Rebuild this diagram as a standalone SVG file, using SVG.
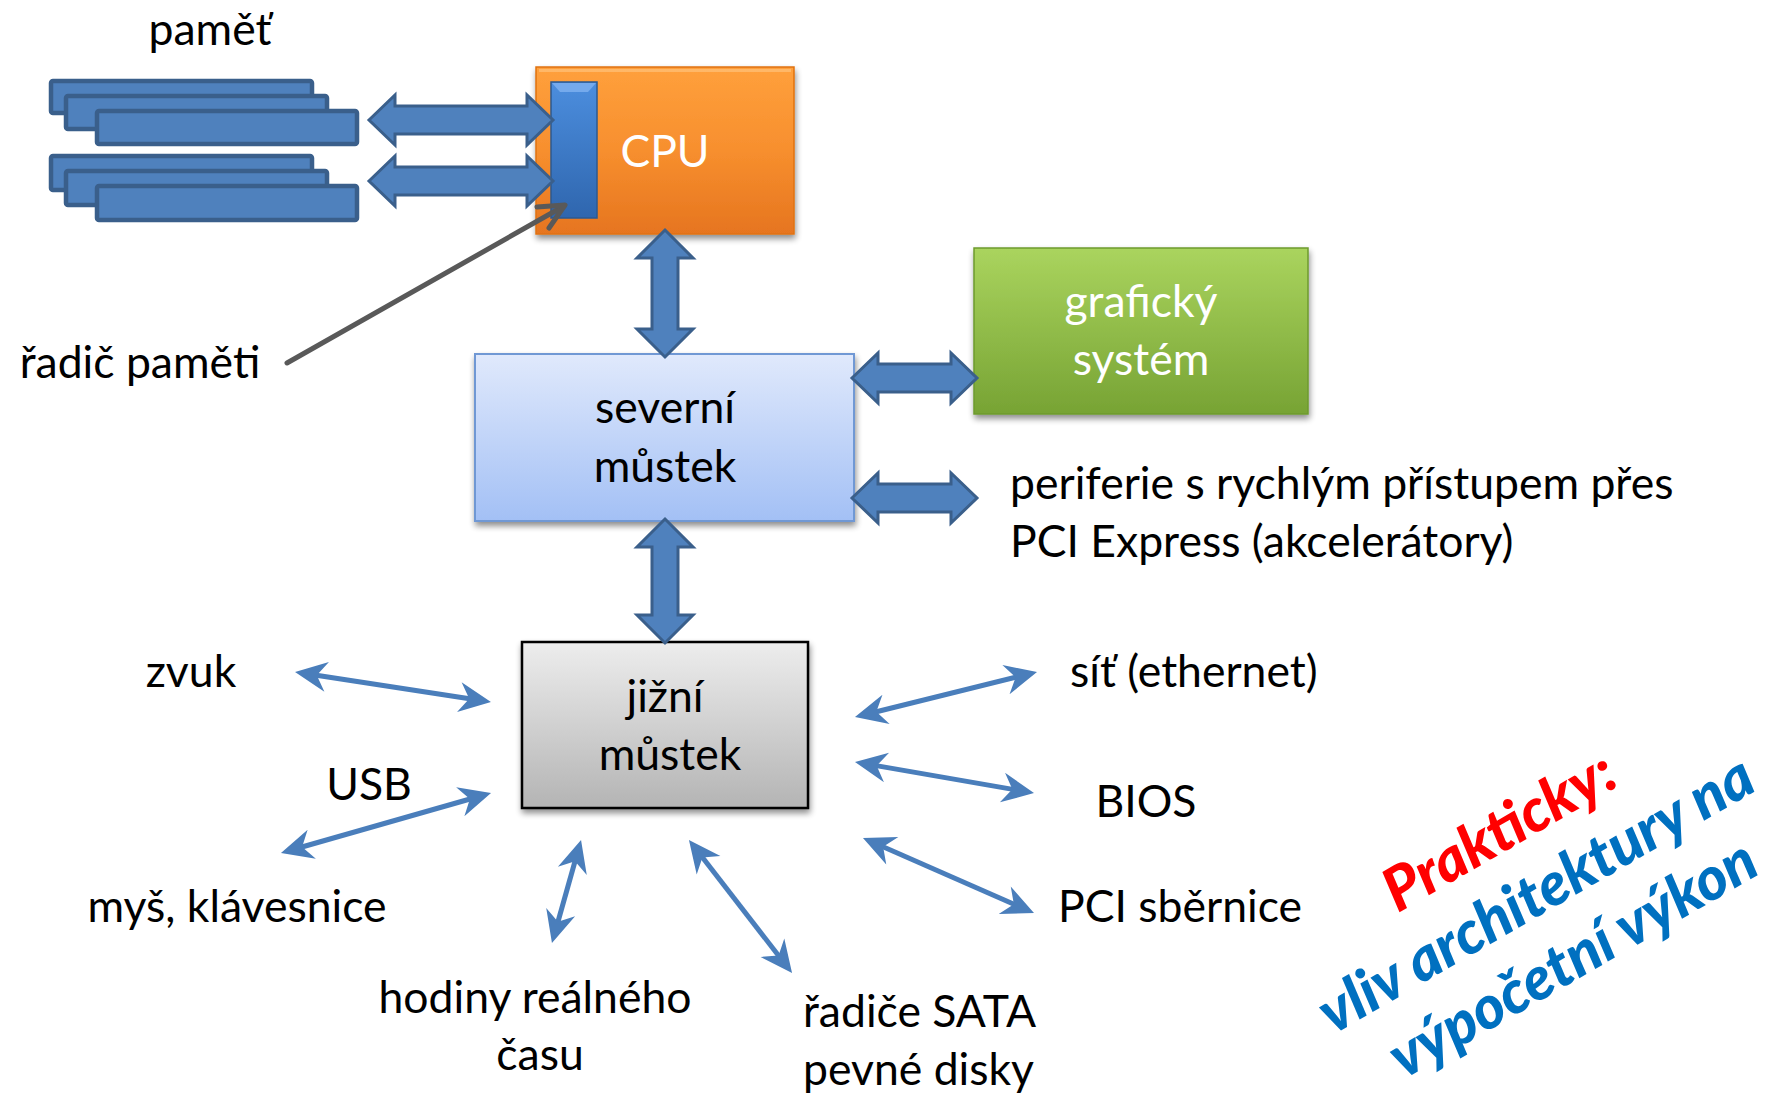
<svg xmlns="http://www.w3.org/2000/svg" width="1778" height="1097" viewBox="0 0 1778 1097">
<style>
text{font-family:Lato,"Open Sans","Liberation Sans",sans-serif;font-size:44.5px;fill:#000}
.w{fill:#fff}
.mem{fill:#4F81BD;stroke:#3A5F8B;stroke-width:4.5}
.blk{fill:#4F81BD;stroke:#3A5F8B;stroke-width:3;stroke-linejoin:miter}
.thin{stroke:#4A7EBB;stroke-width:5;fill:none;marker-start:url(#ah);marker-end:url(#ah)}
.rot{font-weight:900;font-style:italic;font-size:60px}
</style>
<defs>
<marker id="ah" markerUnits="userSpaceOnUse" markerWidth="40" markerHeight="40" viewBox="-5 -20 40 40" refX="10" refY="0" orient="auto-start-reverse" overflow="visible"><path d="M30,0 L-2,-15 L8,0 L-2,15 Z" fill="#4A7EBB"/></marker>
<linearGradient id="gOr" x1="0" y1="0" x2="0" y2="1"><stop offset="0" stop-color="#FFA03C"/><stop offset="0.5" stop-color="#F78F2E"/><stop offset="1" stop-color="#E6751F"/></linearGradient>
<linearGradient id="gBar" x1="0" y1="0" x2="0" y2="1"><stop offset="0" stop-color="#4C8EDE"/><stop offset="1" stop-color="#2F66AE"/></linearGradient>
<linearGradient id="gGr" x1="0" y1="0" x2="0" y2="1"><stop offset="0" stop-color="#AAD45E"/><stop offset="1" stop-color="#77A334"/></linearGradient>
<linearGradient id="gNb" x1="0" y1="0" x2="0" y2="1"><stop offset="0" stop-color="#E0E9FC"/><stop offset="1" stop-color="#A3C0F5"/></linearGradient>
<linearGradient id="gSb" x1="0" y1="0" x2="0" y2="1"><stop offset="0" stop-color="#EDEDED"/><stop offset="1" stop-color="#B4B4B4"/></linearGradient>
<filter id="sh" x="-10%" y="-10%" width="125%" height="130%"><feGaussianBlur in="SourceAlpha" stdDeviation="3"/><feOffset dx="1" dy="4" result="b"/><feComponentTransfer><feFuncA type="linear" slope="0.45"/></feComponentTransfer><feMerge><feMergeNode/><feMergeNode in="SourceGraphic"/></feMerge></filter>
</defs>
<rect width="1778" height="1097" fill="#fff"/>

<g id="memory">
<text x="210" y="45" text-anchor="middle">paměť</text>
<rect class="mem" x="51" y="81" width="261" height="32" rx="2"/>
<rect class="mem" x="66" y="96" width="261" height="33" rx="2"/>
<rect class="mem" x="97" y="111" width="260" height="33" rx="2"/>
<rect class="mem" x="51" y="156" width="261" height="34" rx="2"/>
<rect class="mem" x="66" y="171" width="261" height="34" rx="2"/>
<rect class="mem" x="97" y="186" width="260" height="34" rx="2"/>
</g>

<g id="cpu">
<rect x="536" y="67" width="258" height="167" fill="url(#gOr)" stroke="#E0720F" stroke-width="1.5" filter="url(#sh)"/>
<rect x="539" y="69" width="252" height="3" fill="#FFC27A" opacity="0.7"/>
<text class="w" x="665" y="167" text-anchor="middle">CPU</text>
</g>

<g id="memory-controller">
<rect x="551" y="82" width="46" height="136" fill="url(#gBar)" stroke="#2C5A90" stroke-width="1.5"/>
<polygon points="552,83 596,83 588,92 560,92" fill="#7FB2F0" opacity="0.8"/>
<text x="140" y="378" text-anchor="middle">řadič paměti</text>
</g>

<g id="north-bridge">
<rect x="475" y="354" width="379" height="167" fill="url(#gNb)" stroke="#6F98D4" stroke-width="2" filter="url(#sh)"/>
<text x="665" y="423" text-anchor="middle">severní</text>
<text x="665" y="482" text-anchor="middle">můstek</text>
</g>

<g id="graphics">
<rect x="974" y="248" width="334" height="166" fill="url(#gGr)" stroke="#6E9A2E" stroke-width="1.5" filter="url(#sh)"/>
<text class="w" x="1141" y="317" text-anchor="middle">grafický</text>
<text class="w" x="1141" y="375" text-anchor="middle">systém</text>
</g>

<g id="pcie">
<text x="1010" y="499">periferie s rychlým přístupem přes</text>
<text x="1010" y="557">PCI Express (akcelerátory)</text>
</g>

<g id="south-bridge">
<rect x="522" y="642" width="286" height="166" fill="url(#gSb)" stroke="#000" stroke-width="2.5" filter="url(#sh)"/>
<text x="665" y="712" text-anchor="middle">jižní</text>
<text x="670" y="770" text-anchor="middle">můstek</text>
</g>

<g id="sound"><text x="191" y="687" text-anchor="middle">zvuk</text></g>
<g id="usb"><text x="369" y="800" text-anchor="middle">USB</text></g>
<g id="mouse-keyboard"><text x="237" y="922" text-anchor="middle">myš, klávesnice</text></g>
<g id="rtc">
<text x="535" y="1013" text-anchor="middle">hodiny reálného</text>
<text x="540" y="1070" text-anchor="middle">času</text>
</g>
<g id="sata">
<text x="803" y="1027">řadiče SATA</text>
<text x="803" y="1085">pevné disky</text>
</g>
<g id="network"><text x="1070" y="687">síť (ethernet)</text></g>
<g id="bios"><text x="1146" y="817" text-anchor="middle">BIOS</text></g>
<g id="pci"><text x="1058" y="922">PCI sběrnice</text></g>

<g id="note" transform="translate(1546,912) rotate(-30)">
<text class="rot" x="0" y="-73" text-anchor="middle" style="fill:#FF0000">Prakticky:</text>
<text class="rot" x="0" y="0" text-anchor="middle" style="fill:#0070C0">vliv architektury na</text>
<text class="rot" x="0" y="74" text-anchor="middle" style="fill:#0070C0">výpočetní výkon</text>
</g>

<g id="connectors">
<polygon class="blk" points="369,120 395,95 395,106 527,106 527,95 553,120 527,145 527,134 395,134 395,145"/>
<polygon class="blk" points="369,181 395,156 395,167 527,167 527,156 553,181 527,206 527,195 395,195 395,206"/>
<polygon class="blk" points="665,230 693,258 678,258 678,329 693,329 665,357 637,329 652,329 652,258 637,258"/>
<polygon class="blk" points="665,519 693,547 678,547 678,615 693,615 665,643 637,615 652,615 652,547 637,547"/>
<polygon class="blk" points="852,378 878,353 878,364 951,364 951,353 977,378 951,403 951,392 878,392 878,403"/>
<polygon class="blk" points="852,498 878,473 878,484 951,484 951,473 977,498 951,523 951,512 878,512 878,523"/>
<g stroke="#595959" stroke-width="5" fill="none" stroke-linecap="round" stroke-linejoin="round">
<line x1="287" y1="363" x2="564" y2="206"/>
<polyline points="549,228 565,205 537,207"/>
</g>
<line class="thin" x1="314.8" y1="675.0" x2="471.2" y2="699.0"/>
<line class="thin" x1="300.2" y1="847.5" x2="471.8" y2="798.5"/>
<line class="thin" x1="575.6" y1="859.3" x2="557.4" y2="923.7"/>
<line class="thin" x1="701.2" y1="855.8" x2="779.8" y2="957.2"/>
<line class="thin" x1="874.4" y1="712.2" x2="1017.6" y2="676.8"/>
<line class="thin" x1="874.7" y1="765.4" x2="1014.3" y2="789.6"/>
<line class="thin" x1="881.3" y1="846.0" x2="1015.7" y2="905.0"/>
</g>
</svg>
